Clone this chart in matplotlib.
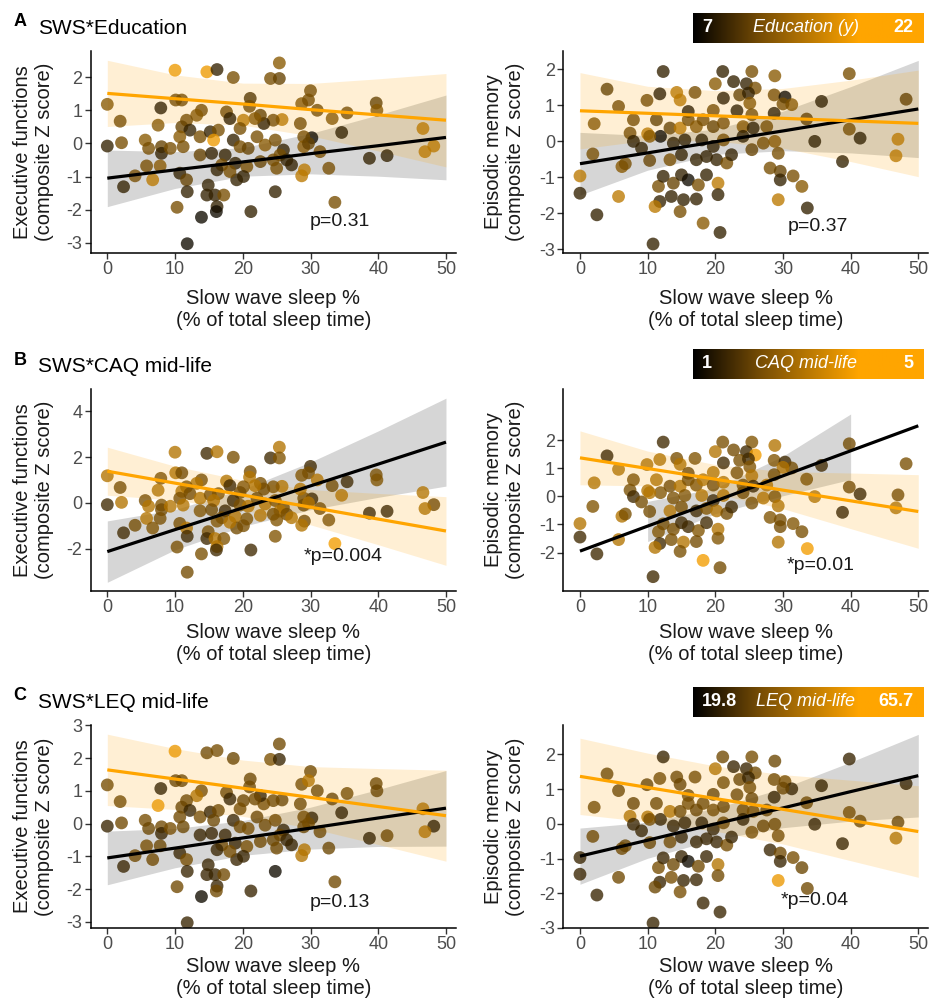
import matplotlib
matplotlib.use("Agg")
import matplotlib.pyplot as plt
import numpy as np
from matplotlib.colors import LinearSegmentedColormap, Normalize

plt.rcParams['font.family'] = ['Liberation Sans', 'DejaVu Sans']
plt.rcParams['axes.unicode_minus'] = False

# ---------------- data ----------------
sws_ef = [10.0, 14.7, 16.2, 18.6, 25.4, 24.1, 25.4, 30.0, 0.0, 10.1,
          11.0, 7.9, 1.9, 7.5, 21.1, 21.0, 28.7, 29.7, 31.0, 33.2,
          35.4, 39.7, 39.8, 46.6, 48.2, 46.9, 38.7, 41.3, 34.6, 30.2,
          29.0, 28.5, 25.8, 24.5, 23.1, 22.6, 21.8, 20.1, 19.6, 17.6,
          18.1, 13.9, 13.2, 11.7, 11.0, 12.2, 13.7, 15.2, 16.4, 15.7,
          18.6, 19.6, 20.8, 22.1, 23.3, 24.8, 26.0, 25.5, 29.0, 29.7,
          31.4, 32.7, 29.1, 28.7, 0.0, 2.1, 5.6, 6.1, 8.0, 8.0,
          9.3, 10.7, 11.2, 13.7, 15.4, 17.4, 16.9, 18.9, 20.6, 22.6,
          24.5, 26.5, 27.2, 25.0, 5.8, 7.8, 4.1, 2.4, 6.7, 10.7,
          11.7, 11.8, 14.9, 14.7, 15.9, 17.2, 19.1, 20.1, 24.8, 10.3,
          16.2, 16.1, 13.9, 21.2, 33.6, 11.8, 16.2, 18.1]
ef = [2.21, 2.16, 2.23, 1.99, 2.43, 1.96, 1.96, 1.59, 1.18, 1.31,
      1.31, 1.07, 0.67, 0.55, 1.36, 1.12, 1.20, 1.31, 1.00, 0.75,
      0.92, 1.22, 1.00, 0.45, -0.08, -0.25, -0.45, -0.37, 0.33, 0.17,
      0.20, 0.60, 0.72, 0.70, 0.60, 0.85, 0.75, 0.70, 0.45, 0.95,
      0.75, 1.00, 0.85, 0.70, 0.50, 0.40, 0.20, 0.35, 0.40, 0.10,
      0.10, -0.10, -0.15, 0.20, -0.05, 0.10, -0.20, -0.35, -0.10, 0.00,
      -0.25, -0.75, -0.80, -0.98, -0.08, 0.02, 0.10, -0.15, -0.10, -0.30,
      -0.15, 0.20, -0.10, -0.35, -0.30, -0.35, -0.65, -0.60, -0.70, -0.55,
      -0.50, -0.50, -0.65, -0.75, -0.68, -0.68, -0.98, -1.31, -1.10, -0.90,
      -1.10, -1.46, -1.26, -1.56, -1.56, -1.56, -1.10, -1.00, -1.46, -1.93,
      -1.91, -2.06, -2.23, -2.06, -1.78, -3.03, -0.80, -0.85]
edu_ef = [21, 21, 10, 14, 15, 14, 13, 14, 15, 14,
          14, 10, 14, 15, 12, 14, 15, 14, 14, 15,
          14, 13, 15, 18, 18, 18, 10, 10, 10, 8,
          14, 14, 18, 14, 10, 13, 15, 18, 14, 14,
          10, 14, 15, 14, 13, 10, 14, 10, 14, 21,
          10, 14, 13, 14, 15, 14, 10, 14, 15, 13,
          14, 14, 18, 18, 10, 14, 15, 14, 13, 10,
          14, 15, 14, 13, 10, 10, 14, 10, 14, 13,
          14, 10, 10, 14, 14, 15, 14, 10, 18, 10,
          13, 10, 10, 10, 10, 14, 10, 10, 10, 14,
          10, 8, 8, 10, 14, 8, 10, 14]
caq_ef = [3.8, 2.0, 3.8, 2.9, 3.8, 2.0, 3.0, 2.0, 3.8, 3.8,
          2.8, 3.0, 2.9, 3.8, 2.8, 3.8, 3.0, 2.9, 3.8, 2.8,
          2.0, 2.9, 3.0, 3.8, 2.8, 3.8, 2.0, 2.0, 3.8, 2.0,
          2.9, 3.8, 3.8, 3.0, 2.8, 2.9, 3.8, 3.0, 2.8, 3.8,
          2.0, 2.9, 3.8, 3.0, 3.8, 2.8, 3.8, 2.9, 3.0, 3.8,
          2.0, 2.9, 3.8, 2.8, 3.8, 3.0, 2.9, 3.8, 2.8, 3.8,
          2.9, 3.0, 2.8, 3.8, 2.0, 3.8, 2.9, 3.8, 3.0, 2.8,
          3.8, 2.9, 3.8, 3.0, 2.8, 2.0, 2.9, 3.8, 3.0, 3.8,
          2.9, 2.8, 3.8, 3.0, 3.8, 2.9, 2.8, 2.0, 3.0, 2.9,
          3.8, 2.0, 2.9, 2.0, 3.8, 3.0, 2.8, 2.9, 3.0, 2.9,
          3.8, 2.0, 2.9, 2.0, 4.8, 2.8, 3.0, 3.8]
leq_ef = [62, 40, 41, 39, 40, 42, 30, 40, 41, 39,
          40, 30, 41, 62, 39, 40, 41, 52, 40, 39,
          41, 40, 39, 52, 30, 52, 30, 40, 30, 30,
          41, 40, 39, 40, 41, 30, 40, 39, 41, 40,
          30, 41, 52, 40, 39, 30, 41, 30, 40, 39,
          30, 40, 41, 39, 40, 41, 30, 40, 39, 41,
          40, 39, 52, 52, 30, 40, 41, 39, 40, 30,
          41, 40, 39, 30, 30, 30, 40, 30, 41, 40,
          39, 30, 30, 40, 41, 39, 40, 30, 40, 30,
          41, 30, 30, 30, 30, 40, 30, 30, 23, 40,
          30, 40, 23, 30, 40, 30, 30, 41]

sws_em = [12.3, 21.1, 25.4, 28.8, 39.8, 4.0, 11.8, 9.9, 14.3, 17.0,
          14.8, 20.0, 22.7, 24.6, 25.9, 21.2, 23.6, 24.9, 28.7, 30.3,
          31.3, 30.0, 35.7, 48.2, 5.7, 2.1, 7.9, 11.3, 16.0, 19.7,
          23.2, 25.1, 25.4, 28.7, 7.4, 10.0, 11.9, 13.3, 14.8, 16.0,
          17.2, 18.2, 19.7, 21.2, 24.1, 25.6, 27.6, 33.5, 39.8, 41.4,
          34.7, 47.0, 46.7, 38.8, 1.9, 7.9, 9.1, 10.3, 13.8, 15.5,
          18.0, 19.7, 21.2, 24.1, 25.4, 27.1, 28.8, 29.3, 10.3, 13.3,
          15.0, 17.2, 18.7, 20.2, 21.7, 22.4, 6.2, 6.7, 0.0, 0.0,
          2.5, 5.7, 11.6, 12.3, 13.8, 15.0, 16.0, 17.5, 18.7, 20.4,
          11.8, 13.5, 15.3, 17.2, 20.4, 11.1, 14.8, 18.2, 20.7, 10.8,
          28.1, 29.6, 29.6, 31.5, 32.8, 29.3, 33.6]
em = [1.93, 1.93, 1.93, 1.81, 1.87, 1.44, 1.31, 1.13, 1.35, 1.35,
      1.14, 1.59, 1.65, 1.59, 1.47, 1.19, 1.28, 1.33, 1.28, 1.22,
      1.01, 1.03, 1.10, 1.16, 0.96, 0.48, 0.59, 0.59, 0.82, 0.85,
      0.84, 1.05, 0.73, 0.77, 0.22, 0.20, 0.13, 0.36, 0.36, 0.59,
      0.40, 0.59, 0.40, 0.50, 0.40, 0.36, 0.40, 0.61, 0.33, 0.08,
      -0.01, 0.05, -0.41, -0.57, -0.36, -0.01, -0.20, 0.13, -0.06, 0.03,
      0.03, -0.15, 0.03, 0.13, -0.24, -0.06, -0.01, -0.34, -0.54, -0.52,
      -0.38, -0.52, -0.43, -0.52, -0.61, -0.38, -0.71, -0.63, -0.97, -1.45,
      -2.05, -1.54, -1.26, -0.98, -1.17, -0.94, -1.08, -1.22, -0.94, -1.17,
      -1.68, -1.54, -1.63, -1.61, -1.49, -1.82, -1.96, -2.28, -2.54, -2.86,
      -0.75, -0.84, -1.08, -0.97, -1.26, -1.63, -1.86]
edu_em = [10, 10, 14, 15, 14, 13, 10, 14, 18, 14,
          18, 15, 10, 10, 14, 10, 13, 10, 14, 8,
          15, 14, 10, 13, 14, 15, 14, 13, 10, 14,
          10, 15, 14, 10, 14, 18, 8, 13, 18, 14,
          15, 14, 13, 14, 15, 10, 14, 13, 14, 10,
          10, 18, 18, 10, 14, 10, 10, 15, 10, 10,
          10, 10, 14, 10, 13, 14, 15, 14, 13, 14,
          10, 10, 10, 10, 14, 10, 15, 14, 18, 10,
          10, 18, 14, 10, 13, 10, 8, 14, 10, 18,
          10, 10, 10, 10, 10, 18, 14, 15, 10, 10,
          14, 13, 10, 14, 15, 18, 10]
caq_em = [2.0, 2.9, 3.0, 3.8, 2.8, 2.0, 3.8, 3.8, 2.9, 3.0,
          3.8, 3.8, 2.8, 2.0, 4.8, 2.0, 2.9, 2.0, 3.0, 2.0,
          2.8, 3.8, 2.0, 2.9, 3.8, 3.8, 3.0, 3.8, 2.8, 3.8,
          2.9, 3.0, 3.8, 2.8, 2.9, 3.8, 3.0, 2.8, 3.8, 2.9,
          3.0, 3.8, 2.8, 3.8, 2.9, 2.0, 3.8, 3.0, 2.8, 2.0,
          3.8, 2.9, 3.8, 2.0, 3.0, 2.0, 2.8, 3.8, 2.9, 3.0,
          3.8, 2.0, 3.8, 2.8, 2.9, 3.8, 3.0, 3.8, 2.8, 3.8,
          2.9, 2.0, 3.0, 3.8, 2.8, 2.0, 3.8, 2.9, 3.8, 2.0,
          2.0, 3.8, 3.0, 2.8, 2.9, 2.0, 2.0, 3.0, 2.0, 3.8,
          2.0, 2.9, 3.8, 2.8, 3.0, 3.8, 2.9, 4.8, 2.8, 2.0,
          3.0, 2.9, 2.8, 3.0, 2.9, 3.8, 4.8]
leq_em = [30, 40, 41, 39, 30, 40, 41, 39, 40, 41,
          39, 52, 30, 30, 40, 41, 39, 30, 40, 41,
          30, 39, 30, 30, 40, 41, 39, 40, 41, 39,
          40, 41, 39, 30, 52, 52, 30, 52, 40, 41,
          39, 40, 41, 39, 40, 41, 39, 40, 41, 40,
          30, 39, 52, 30, 40, 30, 30, 41, 30, 30,
          30, 30, 40, 30, 41, 39, 40, 41, 39, 40,
          30, 30, 30, 30, 41, 30, 40, 39, 30, 30,
          30, 40, 41, 30, 39, 30, 23, 40, 30, 52,
          30, 41, 30, 30, 40, 39, 41, 30, 30, 30,
          30, 40, 30, 41, 39, 62, 40]

# regression fits (low / high moderator) with confidence bands
fit_x = [0, 10, 20, 30, 40, 50]
band_x_short = [10, 20, 30, 40]

ef_edu_lo = [-1.05, -0.80, -0.56, -0.31, -0.07, 0.18]
ef_edu_lo_up = [-0.20, -0.25, -0.13, 0.30, 0.86, 1.46]
ef_edu_lo_dn = [-1.91, -1.36, -0.99, -0.92, -0.99, -1.10]
ef_edu_hi = [1.51, 1.35, 1.19, 1.02, 0.86, 0.70]
ef_edu_hi_up = [2.51, 2.07, 1.82, 1.81, 1.95, 2.11]
ef_edu_hi_dn = [0.51, 0.63, 0.55, 0.23, -0.23, -0.71]

em_edu_lo = [-0.63, -0.33, -0.02, 0.28, 0.59, 0.89]
em_edu_lo_up = [0.24, 0.15, 0.33, 0.83, 1.51, 2.24]
em_edu_lo_dn = [-1.50, -0.81, -0.37, -0.27, -0.33, -0.46]
em_edu_hi = [0.84, 0.77, 0.70, 0.63, 0.56, 0.49]
em_edu_hi_up = [1.90, 1.52, 1.40, 1.46, 1.69, 1.97]
em_edu_hi_dn = [-0.22, 0.02, 0.00, -0.20, -0.57, -0.99]

ef_caq_lo = [-2.13, -1.17, -0.22, 0.74, 1.69, 2.65]
ef_caq_lo_up = [-0.79, -0.29, 0.59, 1.78, 3.14, 4.57]
ef_caq_lo_dn = [-3.47, -2.05, -1.03, -0.30, 0.24, 0.73]
ef_caq_hi = [1.38, 0.86, 0.34, -0.19, -0.71, -1.23]
ef_caq_hi_up = [2.43, 1.60, 0.98, 0.58, 0.41, 0.27]
ef_caq_hi_dn = [0.33, 0.12, -0.30, -0.96, -1.83, -2.73]

em_caq_lo = [-1.95, -1.06, -0.17, 0.73, 1.62, 2.51]
em_caq_lo_up = [-0.18, 0.29, 1.43, 2.93]
em_caq_lo_dn = [-1.61, -0.62, 0.02, 0.60]
em_caq_hi = [1.37, 0.99, 0.61, 0.22, -0.16, -0.54]
em_caq_hi_up = [2.33, 1.61, 1.13, 0.88, 0.83, 0.77]
em_caq_hi_dn = [0.41, 0.37, 0.09, -0.44, -1.15, -1.85]

ef_leq_lo = [-1.05, -0.75, -0.44, -0.14, 0.17, 0.47]
ef_leq_lo_up = [-0.23, -0.15, 0.09, 0.50, 1.04, 1.62]
ef_leq_lo_dn = [-1.87, -1.35, -0.97, -0.78, -0.70, -0.69]
ef_leq_hi = [1.64, 1.36, 1.08, 0.80, 0.52, 0.24]
ef_leq_hi_up = [2.73, 2.29, 1.94, 1.74, 1.68, 1.63]
ef_leq_hi_dn = [0.55, 0.43, 0.22, -0.14, -0.64, -1.15]

em_leq_lo = [-0.93, -0.47, 0.00, 0.46, 0.93, 1.39]
em_leq_lo_up = [-0.12, 0.05, 0.45, 1.03, 1.78, 2.58]
em_leq_lo_dn = [-1.74, -0.99, -0.45, -0.11, 0.08, 0.20]
em_leq_hi = [1.37, 1.05, 0.73, 0.42, 0.10, -0.22]
em_leq_hi_up = [2.47, 2.04, 1.67, 1.42, 1.26, 1.10]
em_leq_hi_dn = [0.27, 0.06, -0.21, -0.58, -1.06, -1.54]

row_titles = ["SWS*Education", "SWS*CAQ mid-life", "SWS*LEQ mid-life"]
row_letters = ["A", "B", "C"]
legend_names = ["Education (y)", "CAQ mid-life", "LEQ mid-life"]
legend_lo = ["7", "1", "19.8"]
legend_hi = ["22", "5", "65.7"]
mod_ranges = [(7, 22), (1, 5), (19.8, 65.7)]
p_texts = [["p=0.31", "p=0.37"], ["*p=0.004", "*p=0.01"], ["p=0.13", "*p=0.04"]]
ef_ticks = [[-3, -2, -1, 0, 1, 2], [-2, 0, 2, 4], [-3, -2, -1, 0, 1, 2, 3]]
em_ticks = [[-3, -2, -1, 0, 1, 2], [-2, -1, 0, 1, 2], [-3, -2, -1, 0, 1, 2]]
x_ticks = [0, 10, 20, 30, 40, 50]

# ---------------- layout ----------------
W, H = 930, 1008
fig = plt.figure(figsize=(W / 100, H / 100), dpi=100)

def rect(x0, x1, top, bottom):
    return [x0 / W, 1 - bottom / H, (x1 - x0) / W, (bottom - top) / H]

col_px = [(90.7, 455.8), (563.4, 928.1)]
row_px = [(51, 253), (389, 591), (725, 928)]
ylims = [[(-3.31, 2.79), (-3.11, 2.50)],
         [(-3.85, 4.97), (-3.37, 3.82)],
         [(-3.19, 3.01), (-3.00, 2.85)]]
p_pos = [[(34.4, -2.37), (35.2, -2.38)],
         [(34.8, -2.36), (35.5, -2.45)],
         [(34.4, -2.42), (34.7, -2.20)]]
xlab_center = [310, 644, 977]
legend_rows = [(13, 43), (349, 379), (687, 717)]

cmap = LinearSegmentedColormap.from_list("bo", ["#000000", "#FFA500"])
legend_cmap = LinearSegmentedColormap.from_list(
    "bo_leg", [(0.0, "#000000"), (0.3, "#7a4f05"), (0.72, "#FFA500"), (1.0, "#FFA500")])
TICKC = "#4d4d4d"

panels = [
    [(sws_ef, ef, edu_ef, ef_edu_lo, ef_edu_lo_up, ef_edu_lo_dn, fit_x, ef_edu_hi, ef_edu_hi_up, ef_edu_hi_dn),
     (sws_em, em, edu_em, em_edu_lo, em_edu_lo_up, em_edu_lo_dn, fit_x, em_edu_hi, em_edu_hi_up, em_edu_hi_dn)],
    [(sws_ef, ef, caq_ef, ef_caq_lo, ef_caq_lo_up, ef_caq_lo_dn, fit_x, ef_caq_hi, ef_caq_hi_up, ef_caq_hi_dn),
     (sws_em, em, caq_em, em_caq_lo, em_caq_lo_up, em_caq_lo_dn, band_x_short, em_caq_hi, em_caq_hi_up, em_caq_hi_dn)],
    [(sws_ef, ef, leq_ef, ef_leq_lo, ef_leq_lo_up, ef_leq_lo_dn, fit_x, ef_leq_hi, ef_leq_hi_up, ef_leq_hi_dn),
     (sws_em, em, leq_em, em_leq_lo, em_leq_lo_up, em_leq_lo_dn, fit_x, em_leq_hi, em_leq_hi_up, em_leq_hi_dn)],
]
ylabels = ["Executive functions\n(composite Z score)", "Episodic memory\n(composite Z score)"]
ylab_x = [33, 504]

for r in range(3):
    top, bottom = row_px[r]
    vmin, vmax = mod_ranges[r]
    norm = Normalize(vmin, vmax)
    for c in range(2):
        x0, x1 = col_px[c]
        ax = fig.add_axes(rect(x0, x1, top, bottom))
        (xs, ys, mod, lo, lo_up, lo_dn, lo_bx, hi, hi_up, hi_dn) = panels[r][c]
        ax.fill_between(lo_bx, lo_dn, lo_up, color="#999999", alpha=0.4, lw=0, zorder=1)
        ax.fill_between(fit_x, hi_dn, hi_up, color="#FFA500", alpha=0.17, lw=0, zorder=1)
        ax.scatter(xs, ys, c=mod, cmap=cmap, norm=norm, s=85, alpha=0.78,
                   edgecolors="none", zorder=2)
        ax.plot(fit_x, lo, color="black", lw=2.3, zorder=3, solid_capstyle="butt")
        ax.plot(fit_x, hi, color="#FFA500", lw=2.3, zorder=3, solid_capstyle="butt")
        ax.set_xlim(-2.45, 51.45)
        ax.set_ylim(*ylims[r][c])
        ax.set_xticks(x_ticks)
        ax.set_yticks(ef_ticks[r] if c == 0 else em_ticks[r])
        ax.tick_params(axis="both", labelsize=13, labelcolor=TICKC, color="#333333",
                       length=4, width=1.0, pad=2)
        for s in ["top", "right"]:
            ax.spines[s].set_visible(False)
        for s in ["left", "bottom"]:
            ax.spines[s].set_linewidth(1.1)
        px, py = p_pos[r][c]
        ax.text(px, py, p_texts[r][c], ha="center", va="center", fontsize=14, color="#1a1a1a")
        # axis labels
        xc = (x0 + x1) / 2
        fig.text(xc / W, 1 - xlab_center[r] / H, "Slow wave sleep %\n(% of total sleep time)",
                 ha="center", va="center", fontsize=14.5, linespacing=1.2, color="#1a1a1a")
        fig.text(ylab_x[c] / W, 1 - (top + bottom) / 2 / H, ylabels[c], rotation=90,
                 ha="center", va="center", fontsize=14.5, linespacing=1.2,
                 multialignment="center", color="#1a1a1a")

    # row letter and title
    fig.text(20 / W, 1 - (top - 29) / H, row_letters[r], ha="center", va="center",
             fontsize=13, fontweight="bold")
    fig.text(38 / W, 1 - (top - 23) / H, row_titles[r], ha="left", va="center", fontsize=15)

    # gradient legend
    ly0, ly1 = legend_rows[r]
    lax = fig.add_axes(rect(693, 923, ly0, ly1))
    grad = np.linspace(0, 1, 256).reshape(1, -1)
    lax.imshow(grad, aspect="auto", cmap=legend_cmap, extent=[0, 1, 0, 1])
    lax.set_axis_off()
    lax.text(0.04, 0.5, legend_lo[r], transform=lax.transAxes, ha="left",
             va="center", color="white", fontsize=13, fontweight="bold")
    lax.text(0.49, 0.5, legend_names[r], transform=lax.transAxes, ha="center", va="center",
             color="white", fontsize=13, style="italic")
    lax.text(0.96, 0.5, legend_hi[r], transform=lax.transAxes, ha="right", va="center",
             color="white", fontsize=13, fontweight="bold")

fig.savefig("out.png", dpi=100)
